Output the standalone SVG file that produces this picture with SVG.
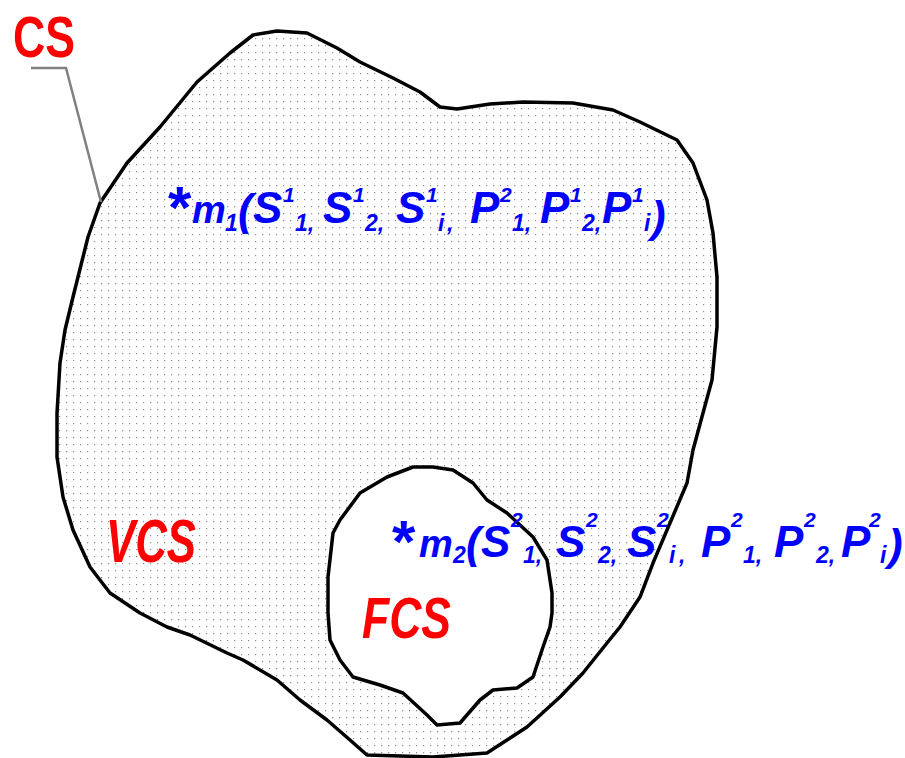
<svg xmlns="http://www.w3.org/2000/svg" width="905" height="758" viewBox="0 0 905 758">
<defs>
<pattern id="dots" width="7" height="7" patternUnits="userSpaceOnUse">
<rect x="3" y="3" width="1.2" height="1.2" fill="#8c8c8c"/>
</pattern>
<style>
.outline{stroke:#000;stroke-width:3.5;stroke-linejoin:round;stroke-linecap:round}
.lbl{font-family:"Liberation Sans",Arial,sans-serif;font-weight:bold;fill:#ff0000}
.m{font-family:"Liberation Sans",Arial,sans-serif;font-weight:bold;font-style:italic;fill:#0000ff}
.big{font-size:44px}
.par{font-size:44px}
.mm{font-size:38px}
.sup{font-size:21px}
.sub{font-size:23px}
.ast{font-size:60px;font-style:normal}
</style>
</defs>
<rect width="905" height="758" fill="#fff"/>
<g id="VCS">
<path class="outline" fill="url(#dots)" d="M100,203 L127,163 L160,127 L197,82 L230,53 L253,35 L277,31 L307,33 L337,48 L360,62 L393,78 L420,92 L440,107 L457,109 L490,104 L523,102 L573,103 L613,110 L640,122 L677,140 L693,163 L707,200 L713,233 L717,277 L717,327 L712,380 L703,413 L693,450 L687,483 L670,523 L653,563 L640,597 L620,627 L607,643 L583,673 L560,697 L527,727 L507,740 L487,753 L433,757 L367,755 L350,740 L327,720 L300,700 L277,680 L243,660 L227,653 L190,635 L167,627 L140,613 L110,593 L90,567 L73,530 L63,497 L57,457 L57,413 L60,363 L65,330 L73,297 L83,257 L88,237 Z"/>
<text class="lbl" x="106" y="562" font-size="61" font-style="italic" textLength="90" lengthAdjust="spacingAndGlyphs">VCS</text>
</g>
<g id="FCS">
<path class="outline" fill="#fff" d="M433,467 L453,470 L473,483 L487,500 L507,513 L533,537 L547,560 L552,593 L552,613 L550,627 L543,647 L533,677 L517,688 L493,690 L480,700 L460,723 L437,725 L427,715 L403,693 L380,685 L353,677 L340,660 L330,640 L328,613 L328,577 L333,533 L340,520 L360,493 L387,477 L413,467 Z"/>
<text class="lbl" x="362" y="638" font-size="58" font-style="italic" textLength="89" lengthAdjust="spacingAndGlyphs">FCS</text>
</g>
<g id="CS">
<text class="lbl" x="13" y="57" font-size="58" textLength="62" lengthAdjust="spacingAndGlyphs">CS</text>
</g>
<g id="connectors">
<polyline points="31,68 66,68 101,202" fill="none" stroke="#808080" stroke-width="2.5"/>
</g>
<g id="m1">
<text class="m"><tspan class="ast" x="168" y="228">*</tspan><tspan class="mm" x="192" y="223">m</tspan><tspan class="sub" x="225" y="231">1</tspan><tspan class="par" x="238" y="225">(</tspan><tspan class="big" x="253" y="223">S</tspan><tspan class="sup" x="283" y="202">1</tspan><tspan class="sub" x="295" y="231">1,</tspan><tspan class="big" x="323" y="223">S</tspan><tspan class="sup" x="353" y="202">1</tspan><tspan class="sub" x="365" y="231">2,</tspan><tspan class="big" x="396" y="223">S</tspan><tspan class="sup" x="426" y="202">1</tspan><tspan class="sub" x="438" y="231">i</tspan><tspan class="sub" x="447" y="231">,</tspan><tspan class="big" x="470" y="223">P</tspan><tspan class="sup" x="500" y="202">2</tspan><tspan class="sub" x="512" y="231">1,</tspan><tspan class="big" x="540" y="223">P</tspan><tspan class="sup" x="570" y="202">1</tspan><tspan class="sub" x="582" y="231">2,</tspan><tspan class="big" x="602" y="223">P</tspan><tspan class="sup" x="632" y="202">1</tspan><tspan class="sub" x="644" y="231">i</tspan><tspan class="par" x="651" y="232">)</tspan></text>
</g>
<g id="m2">
<text class="m"><tspan class="ast" x="392" y="562">*</tspan><tspan class="mm" x="419" y="557">m</tspan><tspan class="sub" x="453" y="563">2</tspan><tspan class="par" x="466" y="558">(</tspan><tspan class="big" x="481" y="557">S</tspan><tspan class="sup" x="511" y="527">2</tspan><tspan class="sub" x="523" y="563">1,</tspan><tspan class="big" x="556" y="557">S</tspan><tspan class="sup" x="586" y="527">2</tspan><tspan class="sub" x="598" y="563">2,</tspan><tspan class="big" x="627" y="557">S</tspan><tspan class="sup" x="657" y="527">2</tspan><tspan class="sub" x="669" y="563">i</tspan><tspan class="sub" x="679" y="563">,</tspan><tspan class="big" x="701" y="557">P</tspan><tspan class="sup" x="731" y="527">2</tspan><tspan class="sub" x="743" y="563">1,</tspan><tspan class="big" x="774" y="557">P</tspan><tspan class="sup" x="804" y="527">2</tspan><tspan class="sub" x="816" y="563">2,</tspan><tspan class="big" x="841" y="557">P</tspan><tspan class="sup" x="869" y="527">2</tspan><tspan class="sub" x="880" y="563">i</tspan><tspan class="par" x="888" y="560">)</tspan></text>
</g>
</svg>
